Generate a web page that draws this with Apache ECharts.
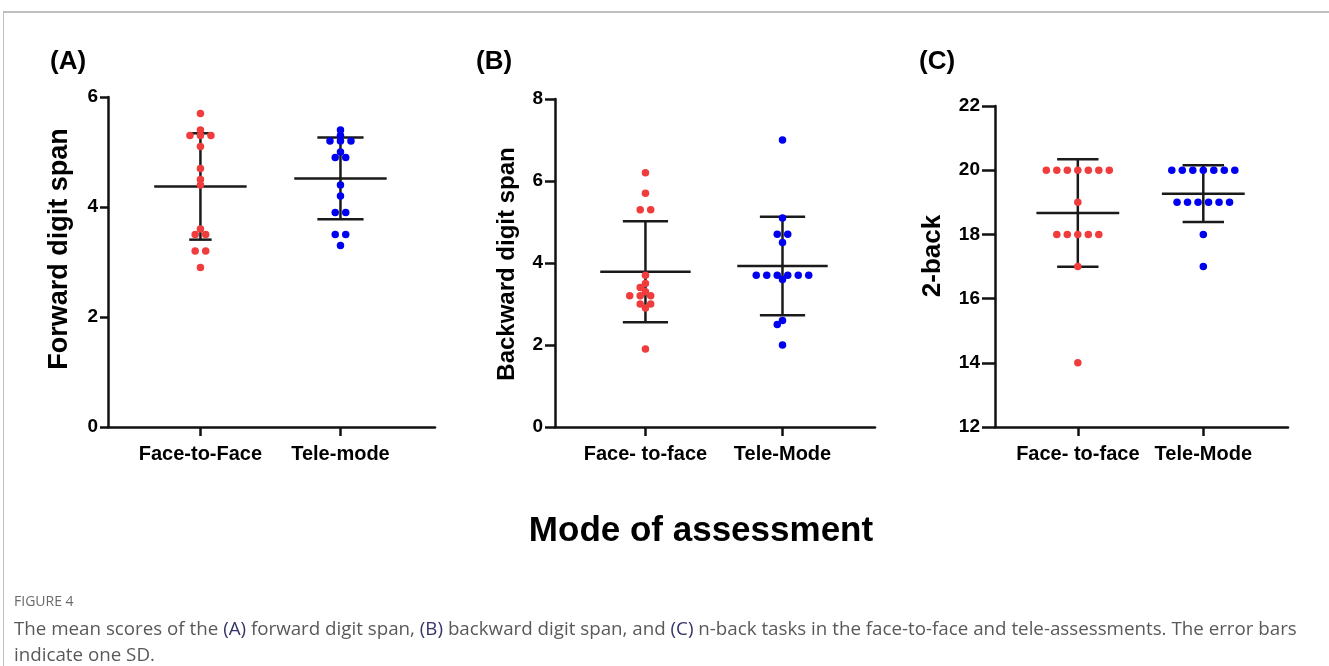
<!DOCTYPE html>
<html>
<head>
<meta charset="utf-8">
<script src="https://cdn.jsdelivr.net/npm/echarts@6.0.0/dist/echarts.min.js"></script>
<style>
  html, body { margin: 0; padding: 0; background: #fff; }
  #chart { width: 1329px; height: 666px; }
</style>
</head>
<body>
<div id="chart"></div>
<script>
// categories for each panel
const catsA = ['Face-to-Face', 'Tele-mode'];
const catsB = ['Face- to-face', 'Tele-Mode'];
const catsC = ['Face- to-face', 'Tele-Mode'];

// (A) forward digit span
const forwardFace = [5.7, 5.4, 5.3, 5.3, 5.3, 5.1, 4.7, 4.5, 4.4, 3.6, 3.5, 3.5, 3.2, 3.2, 2.9];
const forwardTele = [5.4, 5.3, 5.2, 5.2, 5.2, 5.0, 4.9, 4.9, 4.4, 4.2, 3.9, 3.9, 3.5, 3.5, 3.3];
// (B) backward digit span
const backwardFace = [6.2, 5.7, 5.3, 5.3, 3.7, 3.5, 3.4, 3.3, 3.2, 3.2, 3.2, 3.0, 3.0, 2.9, 1.9];
const backwardTele = [7.0, 5.1, 4.7, 4.7, 4.5, 3.7, 3.7, 3.7, 3.7, 3.7, 3.7, 3.6, 2.6, 2.5, 2.0];
// (C) 2-back
const nbackFace = [20, 20, 20, 20, 20, 20, 20, 19, 18, 18, 18, 18, 18, 17, 14];
const nbackTele = [20, 20, 20, 20, 20, 20, 20, 19, 19, 19, 19, 19, 19, 18, 17];

// y tick labels
const yTicksA = [0, 2, 4, 6];
const yTicksB = [0, 2, 4, 6, 8];
const yTicksC = [12, 14, 16, 18, 20, 22];

const FONT = '"Liberation Sans", Arial, sans-serif';
const CAP_FONT = '"Open Sans", sans-serif';
const RED = '#f03c3c';
const BLUE = '#0000f0';
const X_MIN = 0.34, X_MAX = 2.675;
const DOT_STEP = 10.5; // px between neighbouring dots in a row

const panels = [
  { tag: '(A)', name: 'Forward digit span', cats: catsA, face: forwardFace, tele: forwardTele, ticks: yTicksA,
    left: 108, right: 435, top: 97, bottom: 427, caps: [0.08, 0.165], tagX: 50, tickLen: 8,
    nameX: 60, nameY: 249, nameSize: 27 },
  { tag: '(B)', name: 'Backward digit span', cats: catsB, face: backwardFace, tele: backwardTele, ticks: yTicksB,
    left: 555, right: 875, top: 99, bottom: 427, caps: [0.165, 0.165], tagX: 476, tickLen: 10,
    nameX: 507, nameY: 264, nameSize: 24 },
  { tag: '(C)', name: '2-back', cats: catsC, face: nbackFace, tele: nbackTele, ticks: yTicksC,
    left: 995, right: 1288, top: 106, bottom: 427, caps: [0.165, 0.165], tagX: 919, tickLen: 13,
    nameX: 933, nameY: 256, nameSize: 26 }
];

function meanSd(arr) {
  const m = arr.reduce((a, b) => a + b, 0) / arr.length;
  const v = arr.reduce((a, b) => a + (b - m) * (b - m), 0) / (arr.length - 1);
  return [m, Math.sqrt(v)];
}

// simple beeswarm: equal values spread symmetrically, rows shifted if they hit a close neighbour
function swarm(values, pxPerY) {
  const sorted = values.slice().sort((a, b) => b - a);
  const groups = [];
  sorted.forEach(v => {
    const g = groups[groups.length - 1];
    if (g && g.v === v) g.n++; else groups.push({ v: v, n: 1 });
  });
  const placed = [];
  const shifts = [0, -0.5, 0.5, -1, 1, -1.5, 1.5, -2, 2, -2.5, 2.5];
  const clear = (o, v) => placed.every(p => {
    const dy = Math.abs(v - p.v) * pxPerY;
    return dy >= 5 || Math.hypot((o - p.off) * DOT_STEP, dy) >= 6.5;
  });
  groups.forEach(g => {
    const base = [];
    for (let i = 0; i < g.n; i++) base.push(i - (g.n - 1) / 2);
    let chosen = base;
    for (const s of shifts) {
      const offs = base.map(o => o + s);
      if (offs.every(o => clear(o, g.v))) { chosen = offs; break; }
    }
    chosen.forEach(o => placed.push({ off: o, v: g.v }));
  });
  return placed;
}

const grids = [], xAxes = [], yAxes = [], series = [], graphics = [];

panels.forEach((p, i) => {
  const w = p.right - p.left, h = p.bottom - p.top;
  const yMin = p.ticks[0], yMax = p.ticks[p.ticks.length - 1];
  const pxPerY = h / (yMax - yMin);
  const pxPerX = w / (X_MAX - X_MIN);

  grids.push({ left: p.left, top: p.top, width: w, height: h });

  xAxes.push({
    gridIndex: i, type: 'value', min: X_MIN, max: X_MAX,
    axisLine: { show: true, onZero: false, lineStyle: { color: '#111', width: 2.5 } },
    axisTick: { show: true, customValues: [1, 2], length: 9, lineStyle: { color: '#111', width: 2.5 } },
    axisLabel: {
      customValues: [1, 2], formatter: v => p.cats[Math.round(v) - 1],
      color: '#000', fontFamily: FONT, fontWeight: 'bold', fontSize: 20, margin: 17
    },
    splitLine: { show: false }
  });

  yAxes.push({
    gridIndex: i, type: 'value', min: yMin, max: yMax, interval: p.ticks[1] - p.ticks[0],
    axisLine: { show: true, onZero: false, lineStyle: { color: '#111', width: 2.5 } },
    axisTick: { show: true, length: p.tickLen, lineStyle: { color: '#111', width: 2.5 } },
    axisLabel: { color: '#000', fontFamily: FONT, fontWeight: 'bold', fontSize: 19, margin: p.tickLen + 2 },
    splitLine: { show: false }
  });

  [p.face, p.tele].forEach((vals, k) => {
    const pts = swarm(vals, pxPerY);
    series.push({
      type: 'scatter', xAxisIndex: i, yAxisIndex: i, z: 3,
      symbolSize: 7.5, itemStyle: { color: k === 0 ? RED : BLUE, opacity: 1 },
      data: pts.map(q => [k + 1 + q.off * DOT_STEP / pxPerX, q.v])
    });
  });

  const stats = [meanSd(p.face), meanSd(p.tele)];
  series.push({
    type: 'custom', xAxisIndex: i, yAxisIndex: i, z: 2,
    data: stats.map((s, k) => [k + 1, s[0], s[1]]),
    renderItem: (params, api) => {
      const x = api.value(0), m = api.value(1), s = api.value(2);
      const c = api.coord([x, m]);
      const t = api.coord([x, m + s]);
      const b = api.coord([x, m - s]);
      const step = api.size([1, 0])[0];
      const hm = step * 0.33, hc = step * p.caps[params.dataIndex];
      const st = { stroke: '#1a1a1a', lineWidth: 2.5 };
      return {
        type: 'group', children: [
          { type: 'line', shape: { x1: c[0], y1: t[1], x2: c[0], y2: b[1] }, style: st },
          { type: 'line', shape: { x1: c[0] - hm, y1: c[1], x2: c[0] + hm, y2: c[1] }, style: st },
          { type: 'line', shape: { x1: c[0] - hc, y1: t[1], x2: c[0] + hc, y2: t[1] }, style: st },
          { type: 'line', shape: { x1: c[0] - hc, y1: b[1], x2: c[0] + hc, y2: b[1] }, style: st }
        ]
      };
    }
  });

  graphics.push(
    { type: 'text', x: p.tagX, y: 62,
      style: { text: p.tag, fill: '#000', font: 'bold 26px ' + FONT, verticalAlign: 'middle' } },
    { type: 'text', x: p.nameX, y: p.nameY, rotation: Math.PI / 2,
      style: { text: p.name, fill: '#000', font: 'bold ' + p.nameSize + 'px ' + FONT,
               align: 'center', verticalAlign: 'middle' } }
  );
});

// frame lines, common x title and caption
graphics.push(
  { type: 'line', shape: { x1: 3, y1: 12, x2: 1329, y2: 12 }, style: { stroke: '#a8a8a8', lineWidth: 1.5 } },
  { type: 'line', shape: { x1: 3.5, y1: 12, x2: 3.5, y2: 666 }, style: { stroke: '#bdbdbd', lineWidth: 1 } },
  { type: 'text', x: 701, y: 531,
    style: { text: 'Mode of assessment', fill: '#000', font: 'bold 35px ' + FONT, align: 'center', verticalAlign: 'middle' } },
  { type: 'text', x: 14, y: 602,
    style: { text: 'FIGURE 4', fill: '#6a6a6a', font: '14px ' + CAP_FONT, verticalAlign: 'middle' } },
  { type: 'text', x: 14, y: 630,
    style: {
      text: 'The mean scores of the {b|(A)} forward digit span, {b|(B)} backward digit span, and {b|(C)} n-back tasks in the face-to-face and tele-assessments. The error bars',
      fill: '#595959', font: '18.75px ' + CAP_FONT, verticalAlign: 'middle',
      rich: { b: { fill: '#34346a', font: '18.75px ' + CAP_FONT } }
    } },
  { type: 'text', x: 14, y: 656,
    style: { text: 'indicate one SD.', fill: '#595959', font: '18.75px ' + CAP_FONT, verticalAlign: 'middle' } }
);

const chart = echarts.init(document.getElementById('chart'));
chart.setOption({
  animation: false,
  backgroundColor: '#fff',
  grid: grids,
  xAxis: xAxes,
  yAxis: yAxes,
  series: series,
  graphic: graphics
});
</script>
</body>
</html>
